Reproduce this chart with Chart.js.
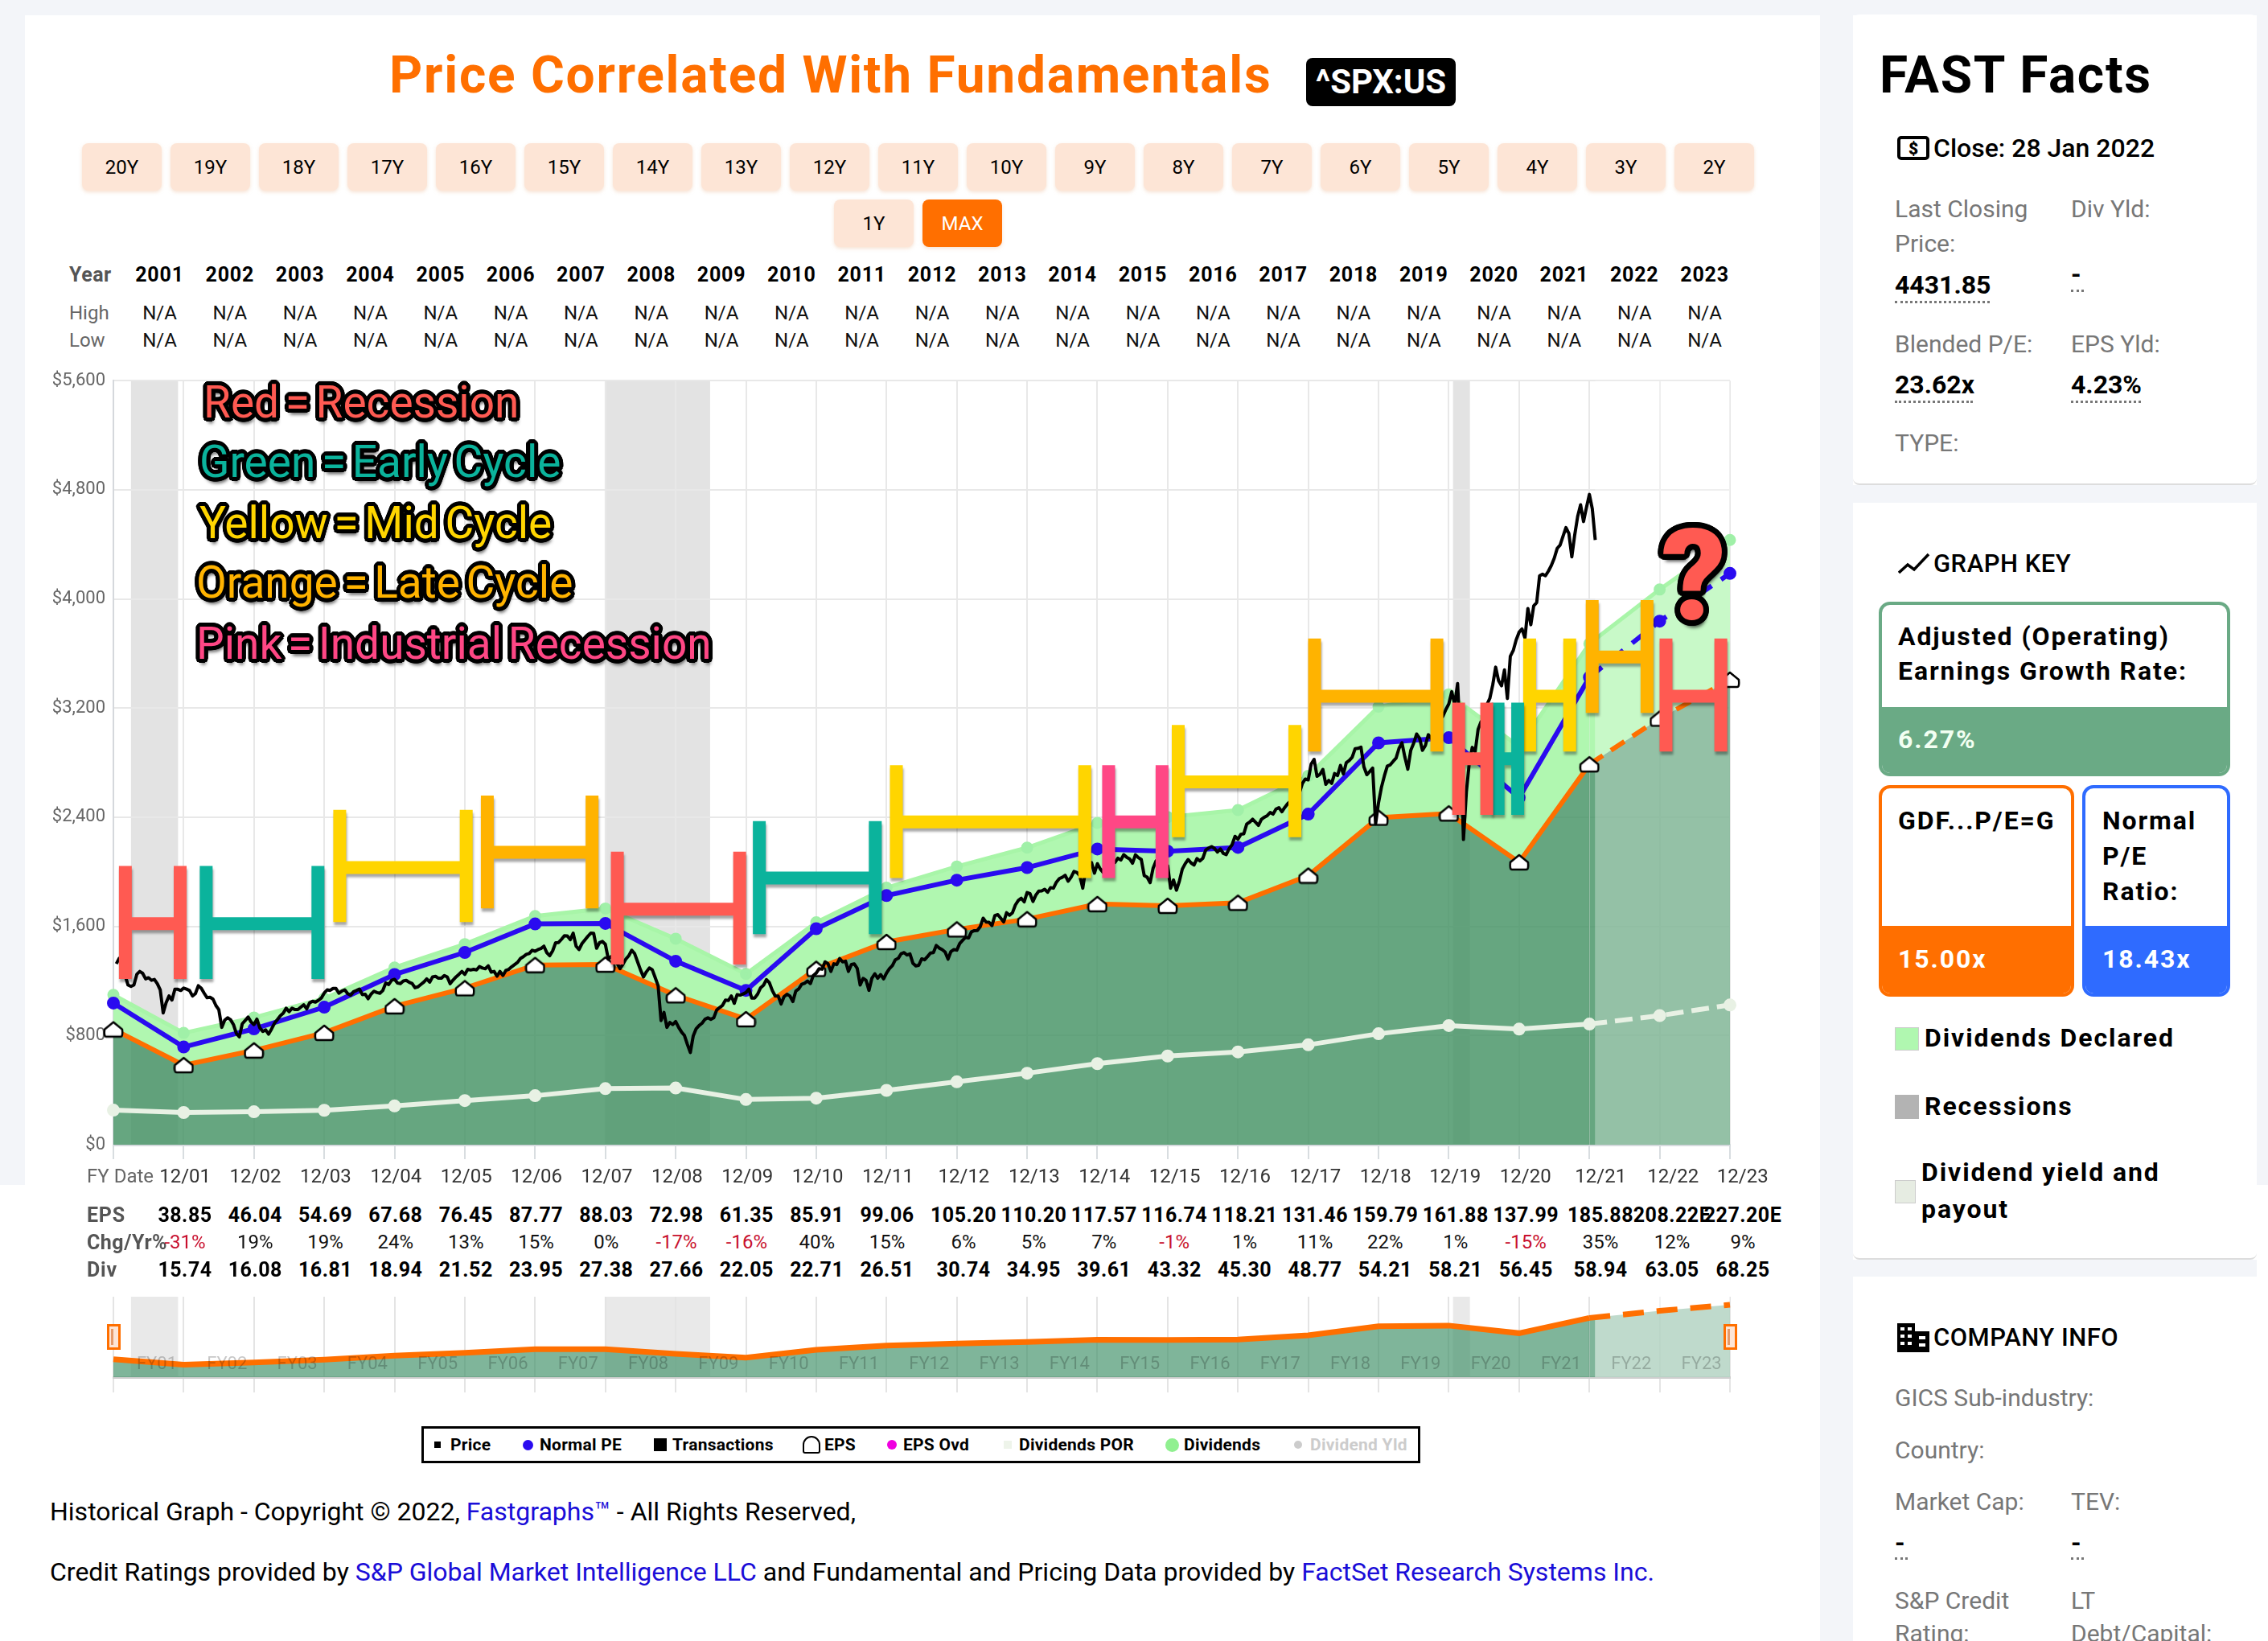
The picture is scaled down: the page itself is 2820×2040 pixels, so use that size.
<!DOCTYPE html>
<html>
<head>
<meta charset="utf-8">
<title>Price Correlated With Fundamentals</title>
<script src="https://cdn.jsdelivr.net/npm/chart.js@4"></script>
<style>
  html, body { margin: 0; padding: 0; background: #fff; }
  body { position: relative; width: 2820px; height: 2040px; overflow: hidden; font-family: Roboto, sans-serif; color: #000; }
  .abs { position: absolute; white-space: nowrap; line-height: 1; }
  .bg { position: absolute; background: #f3f5f9; }
  .card { position: absolute; background: #fff; border-radius: 8px; }
  .btn { position: absolute; background: #fde5d6; border-radius: 8px; font-size: 24px; display: flex; align-items: center; justify-content: center; box-shadow: 0 2px 4px rgba(240,200,170,.5); }
  .box { position: absolute; box-sizing: border-box; border-radius: 14px; border: 4px solid; background: #fff; overflow: hidden; }
  .box .fill { position: absolute; left: 0; right: 0; bottom: 0; }
  .note { font-weight: 700; word-spacing: -6px; }
  canvas { position: absolute; }
  svg { position: absolute; }
  a { color: #1a0dd8; text-decoration: none; }
</style>
</head>
<body>
<div class="bg" style="left:0;top:0;width:2820px;height:19px"></div>
<div class="bg" style="left:0;top:0;width:31px;height:1473px"></div>
<div class="bg" style="left:2263px;top:0;width:41px;height:2040px"></div>
<div class="bg" style="left:2806px;top:0;width:14px;height:1473px"></div>
<div class="bg" style="left:2304px;top:603px;width:502px;height:22px"></div>
<div class="bg" style="left:2304px;top:1566px;width:502px;height:21px"></div>
<div class="card" style="left:2304px;top:18px;width:502px;height:585px;border-bottom:2px solid #ddd;box-sizing:border-box"></div>
<div class="card" style="left:2304px;top:625px;width:502px;height:941px;border-bottom:2px solid #ddd;box-sizing:border-box"></div>

<canvas id="mainChart" width="2200" height="1040" style="left:40px;top:450px"></canvas>
<canvas id="navChart" width="2100" height="131" style="left:100px;top:1600px"></canvas>

<svg style="left:2359px;top:168px" width="40" height="32" viewBox="0 0 40 32"><rect x="2" y="3" width="36" height="26" rx="3" fill="none" stroke="#000" stroke-width="4"/><text x="20" y="24" font-size="21" font-weight="900" text-anchor="middle" font-family="Roboto">$</text></svg>
<svg style="left:2360px;top:684px" width="40" height="32" viewBox="0 0 40 32"><polyline points="1,28 12,18 20,24 38,5" fill="none" stroke="#000" stroke-width="3.5"/></svg>
<svg style="left:2359px;top:1645px" width="40" height="36" viewBox="0 0 40 36"><path d="M0 0H22V36H0Z M22 10H40V36H22Z" fill="#000"/><g fill="#fff"><rect x="4" y="5" width="5" height="4"/><rect x="13" y="5" width="5" height="4"/><rect x="4" y="14" width="5" height="4"/><rect x="13" y="14" width="5" height="4"/><rect x="4" y="23" width="5" height="4"/><rect x="13" y="23" width="5" height="4"/><rect x="27" y="16" width="8" height="4"/><rect x="27" y="25" width="8" height="4"/></g></svg>

<script>
// ---- data ----
const fyYears = [2000, 2001, 2002, 2003, 2004, 2005, 2006, 2007, 2008, 2009, 2010, 2011, 2012, 2013, 2014, 2015, 2016, 2017, 2018, 2019, 2020, 2021, 2022, 2023];
const fyLabels = ['12/01', '12/02', '12/03', '12/04', '12/05', '12/06', '12/07', '12/08', '12/09', '12/10', '12/11', '12/12', '12/13', '12/14', '12/15', '12/16', '12/17', '12/18', '12/19', '12/20', '12/21', '12/22', '12/23'];
// the date row is a table in the source, so it drifts a little right of the gridlines
const fyLabelAt = [2001.02, 2002.02, 2003.02, 2004.02, 2005.02, 2006.02, 2007.02, 2008.02, 2009.02, 2010.02, 2011.02, 2012.1, 2013.1, 2014.1, 2015.1, 2016.1, 2017.1, 2018.1, 2019.09, 2020.09, 2021.16, 2022.19, 2023.18];
const yTickLabels = ['$0', '$800', '$1,600', '$2,400', '$3,200', '$4,000', '$4,800', '$5,600'];

const gdfLine = [845, 583, 691, 820, 1015, 1147, 1317, 1320, 1095, 920, 1289, 1486, 1578, 1653, 1764, 1751, 1773, 1972, 2397, 2428, 2070, 2788, 3123, 3408];
const normalPe = [1038, 716, 849, 1008, 1247, 1409, 1618, 1622, 1345, 1131, 1583, 1826, 1939, 2031, 2167, 2151, 2179, 2423, 2945, 2983, 2543, 3426, 3837, 4187];
const dividendsPor = [253, 236, 241, 252, 284, 323, 359, 411, 415, 331, 341, 398, 461, 524, 594, 650, 680, 732, 813, 873, 847, 884, 946, 1024];
const dividendsTop = [1098, 819, 932, 1072, 1299, 1470, 1676, 1731, 1510, 1251, 1630, 1884, 2039, 2177, 2358, 2401, 2453, 2704, 3210, 3301, 2917, 3672, 4069, 4432];

// price: one mid month and one month end reading for each month, Jan 2001 to Jan 2022
const priceMid = [
  1326, 1320, 1170, 1170, 1270, 1215, 1205, 1180, 966, 1090, 1140, 1130,
  1140, 1090, 1165, 1110, 1080, 1020, 860, 930, 880, 790, 910, 900,
  920, 830, 810, 890, 945, 1000, 1000, 990, 1025, 1040, 1045, 1075,
  1135, 1145, 1110, 1135, 1095, 1130, 1100, 1070, 1125, 1110, 1185, 1205,
  1185, 1200, 1190, 1150, 1175, 1215, 1230, 1220, 1240, 1180, 1230, 1270,
  1285, 1285, 1305, 1290, 1265, 1235, 1240, 1285, 1320, 1365, 1395, 1425,
  1430, 1455, 1385, 1480, 1505, 1530, 1550, 1430, 1500, 1550, 1440, 1490,
  1360, 1350, 1290, 1360, 1425, 1340, 1230, 1295, 1225, 910, 860, 880,
  860, 800, 676, 850, 890, 930, 930, 1005, 1060, 1090, 1100, 1105,
  1140, 1075, 1150, 1210, 1130, 1090, 1085, 1090, 1125, 1175, 1200, 1240,
  1290, 1340, 1270, 1320, 1340, 1270, 1325, 1170, 1205, 1220, 1220, 1215,
  1290, 1355, 1400, 1390, 1330, 1315, 1355, 1405, 1460, 1430, 1360, 1430,
  1475, 1520, 1560, 1570, 1660, 1630, 1680, 1660, 1700, 1700, 1790, 1780,
  1840, 1830, 1860, 1850, 1880, 1950, 1975, 1960, 1995, 1880, 2040, 1990,
  2020, 2095, 2080, 2100, 2125, 2095, 2125, 2090, 1960, 2025, 2050, 2020,
  1880, 1865, 2020, 2090, 2050, 2080, 2160, 2185, 2145, 2135, 2170, 2260,
  2275, 2350, 2385, 2340, 2400, 2435, 2460, 2440, 2500, 2560, 2580, 2680,
  2790, 2700, 2750, 2670, 2720, 2780, 2800, 2840, 2905, 2770, 2735, 2351,
  2620, 2775, 2810, 2905, 2840, 2890, 3010, 2890, 3005, 2985, 3120, 3190,
  3320, 3380, 2237, 2800, 2880, 3100, 3225, 3370, 3400, 3480, 3580, 3700,
  3780, 3930, 3950, 4170, 4170, 4245, 4370, 4460, 4480, 4470, 4690, 4670,
  4660
];
const priceClose = [
  1366, 1240, 1160, 1249, 1256, 1224, 1211, 1134, 1041, 1060, 1139, 1148,
  1130, 1107, 1147, 1077, 1067, 990, 912, 916, 815, 886, 936, 880,
  856, 841, 848, 917, 964, 975, 990, 1008, 996, 1051, 1058, 1112,
  1131, 1145, 1126, 1107, 1121, 1141, 1102, 1104, 1115, 1130, 1174, 1212,
  1181, 1204, 1181, 1157, 1192, 1191, 1234, 1220, 1229, 1207, 1249, 1248,
  1280, 1281, 1295, 1311, 1270, 1270, 1277, 1304, 1336, 1378, 1401, 1418,
  1438, 1407, 1421, 1482, 1531, 1503, 1455, 1474, 1527, 1549, 1481, 1468,
  1379, 1331, 1323, 1386, 1400, 1280, 1267, 1283, 1165, 969, 896, 903,
  826, 735, 798, 873, 919, 919, 987, 1021, 1057, 1036, 1096, 1115,
  1074, 1104, 1169, 1187, 1089, 1031, 1102, 1049, 1141, 1183, 1181, 1258,
  1286, 1327, 1326, 1364, 1345, 1321, 1292, 1219, 1131, 1253, 1247, 1258,
  1312, 1366, 1408, 1398, 1310, 1362, 1379, 1407, 1441, 1412, 1416, 1426,
  1498, 1515, 1569, 1598, 1631, 1606, 1686, 1633, 1682, 1757, 1806, 1848,
  1783, 1859, 1872, 1884, 1924, 1960, 1931, 2003, 1972, 2018, 2068, 2059,
  1995, 2105, 2068, 2086, 2107, 2063, 2104, 1972, 1920, 2079, 2080, 2044,
  1940, 1932, 2060, 2065, 2097, 2099, 2174, 2171, 2168, 2126, 2199, 2239,
  2279, 2364, 2363, 2384, 2412, 2423, 2470, 2472, 2519, 2575, 2648, 2674,
  2824, 2714, 2641, 2648, 2705, 2718, 2816, 2902, 2914, 2712, 2760, 2507,
  2704, 2784, 2834, 2946, 2752, 2942, 2980, 2926, 2977, 3038, 3141, 3231,
  3226, 2954, 2585, 2912, 3044, 3100, 3271, 3500, 3363, 3270, 3622, 3756,
  3714, 3811, 3973, 4181, 4204, 4298, 4395, 4523, 4308, 4605, 4567, 4766,
  4432
];

// recession bands and the forecast boundary, in fiscal year units
const recessionStart = [2000.25, 2006.99, 2019.06];
const recessionEnd = [2000.92, 2008.49, 2019.30];
const forecastStart = 2021.08;

// cycle brackets painted over the chart
const cycleKind = ['red', 'teal', 'yellow', 'orange', 'red', 'teal', 'yellow', 'pink', 'yellow', 'orange', 'red', 'teal', 'yellow', 'orange', 'red'];
const cycleStart = [2000.17, 2001.32, 2003.22, 2005.32, 2007.17, 2009.19, 2011.14, 2014.16, 2015.15, 2017.09, 2019.14, 2019.70, 2020.15, 2021.04, 2022.09];
const cycleEnd = [2000.95, 2002.91, 2005.02, 2006.81, 2008.91, 2010.84, 2013.82, 2014.92, 2016.81, 2018.83, 2019.54, 2019.98, 2020.72, 2021.82, 2022.87];
const cycleLow = [1215, 1215, 1632, 1732, 1321, 1544, 1955, 1955, 2254, 2882, 2418, 2418, 2882, 3164, 2882];
const cycleHigh = [2043, 2043, 2454, 2559, 2148, 2371, 2782, 2782, 3076, 3710, 3240, 3240, 3710, 3992, 3710];
const cycleMid = [1620, 1620, 2031, 2143, 1726, 1955, 2366, 2366, 2659, 3287, 2829, 2829, 3287, 3575, 3287];

// table rows
const tableYears = ['2001', '2002', '2003', '2004', '2005', '2006', '2007', '2008', '2009', '2010', '2011', '2012', '2013', '2014', '2015', '2016', '2017', '2018', '2019', '2020', '2021', '2022', '2023'];
const epsRow = ['38.85', '46.04', '54.69', '67.68', '76.45', '87.77', '88.03', '72.98', '61.35', '85.91', '99.06', '105.20', '110.20', '117.57', '116.74', '118.21', '131.46', '159.79', '161.88', '137.99', '185.88', '208.22E', '227.20E'];
const chgRow = ['-31%', '19%', '19%', '24%', '13%', '15%', '0%', '-17%', '-16%', '40%', '15%', '6%', '5%', '7%', '-1%', '1%', '11%', '22%', '1%', '-15%', '35%', '12%', '9%'];
const divRow = ['15.74', '16.08', '16.81', '18.94', '21.52', '23.95', '27.38', '27.66', '22.05', '22.71', '26.51', '30.74', '34.95', '39.61', '43.32', '45.30', '48.77', '54.21', '58.21', '56.45', '58.94', '63.05', '68.25'];
const rangeButtons = ['20Y', '19Y', '18Y', '17Y', '16Y', '15Y', '14Y', '13Y', '12Y', '11Y', '10Y', '9Y', '8Y', '7Y', '6Y', '5Y', '4Y', '3Y', '2Y'];

// ---- html text around the charts ----
function put(text, x, cy, size, opts) {
  opts = opts || {};
  const el = document.createElement('div');
  el.className = 'abs ' + (opts.cls || '');
  el.textContent = text;
  el.style.top = (cy - size / 2) + 'px';
  el.style.fontSize = size + 'px';
  el.style.fontWeight = opts.weight || 400;
  el.style.color = opts.color || '#000';
  if (opts.ls) el.style.letterSpacing = opts.ls + 'px';
  if (opts.center) { el.style.left = x + 'px'; el.style.transform = 'translateX(-50%)'; }
  else el.style.left = x + 'px';
  if (opts.z) el.style.zIndex = opts.z;
  document.body.appendChild(el);
  return el;
}
function button(text, x, y, active) {
  const b = document.createElement('div');
  b.className = 'btn';
  b.textContent = text;
  b.style.cssText += `left:${x}px;top:${y}px;width:99px;height:59px;`;
  if (active) { b.style.background = '#ff6f00'; b.style.color = '#fff'; }
  document.body.appendChild(b);
}
function rect(x, y, w, h, css) {
  const r = document.createElement('div');
  r.style.cssText = `position:absolute;left:${x}px;top:${y}px;width:${w}px;height:${h}px;` + (css || '');
  document.body.appendChild(r);
  return r;
}
// black outline plus drop shadow, built from text shadows so the fill stays full weight
function outline(r) {
  const parts = [];
  for (let a = 0; a < 24; a++) {
    const t = a / 24 * Math.PI * 2;
    parts.push(`${(Math.cos(t) * r).toFixed(1)}px ${(Math.sin(t) * r).toFixed(1)}px 0 #000`);
  }
  parts.push(`${r * 0.4}px ${r + 2}px 4px rgba(0,0,0,.7)`);
  return parts.join(',');
}

put('Price Correlated With Fundamentals', 484, 94, 64, { weight: 700, color: '#ff6f00', ls: 1.75 });
rect(1624, 72, 186, 60, 'background:#000;border-radius:8px');
put('^SPX:US', 1717, 102, 42, { weight: 700, color: '#fff', center: true });

rangeButtons.forEach((t, i) => button(t, 102 + i * 110, 178));
button('1Y', 1037, 248);
button('MAX', 1147, 248, true);

put('Year', 86, 341, 25, { weight: 700, color: '#555', ls: 0.5 });
put('High', 86, 389, 24, { color: '#666' });
put('Low', 86, 423, 24, { color: '#666' });
tableYears.forEach((t, i) => {
  const x = 198.5 + i * 87.32;
  put(t, x, 341, 25, { weight: 700, center: true, ls: 0.8 });
  put('N/A', x, 389, 24, { center: true, color: '#111' });
  put('N/A', x, 423, 24, { center: true, color: '#111' });
});

put('FY Date', 108, 1462, 24, { color: '#666' });
put('EPS', 108, 1510, 25, { weight: 700, color: '#555', ls: 0.8 });
put('Chg/Yr%', 108, 1544, 25, { weight: 700, color: '#555', ls: 0.5 });
put('Div', 108, 1578, 25, { weight: 700, color: '#555', ls: 0.8 });
const colX = i => i < 11 ? 230 + i * 87.3 : i < 20 ? 1198 + (i - 11) * 87.4 : [1990, 2079, 2167][i - 20];
epsRow.forEach((t, i) => put(t, colX(i), 1510, 25, { weight: 700, center: true, ls: 0.5 }));
chgRow.forEach((t, i) => put(t, colX(i), 1544, 24, { center: true, color: t[0] === '-' ? '#c8102e' : '#111' }));
divRow.forEach((t, i) => put(t, colX(i), 1578, 25, { weight: 700, center: true, ls: 0.5 }));

// mini navigator labels and handles
tableYears.forEach((t, i) => put('FY' + t.slice(2), 195 + i * 87.3, 1695, 22, { center: true, color: 'rgba(0,0,0,.22)', z: 2 }));
[141, 2151].forEach(x => {
  rect(x - 8, 1646, 11, 26, 'background:#fde5d6;border:3px solid #ff6f00;z-index:3');
  rect(x - 3, 1652, 3, 20, 'background:#e59a6a;z-index:4');
});

// chart legend box
rect(524, 1773, 1236, 40, 'border:3px solid #000');
const legendItems = [
  ['Price', 560, 'sq', 540, 8, '#000'], ['Normal PE', 671, 'dot', 650, 13, '#2a0bf0'],
  ['Transactions', 836, 'sq', 813, 16, '#000'], ['EPS', 1025, 'eps', 998, 22, '#fff'],
  ['EPS Ovd', 1123, 'dot', 1103, 12, '#f000e0'], ['Dividends POR', 1267, 'sq', 1248, 10, '#eef4ea'],
  ['Dividends', 1472, 'dot', 1449, 17, '#90f090'], ['Dividend Yld', 1629, 'dot', 1609, 10, '#ccc']
];
legendItems.forEach(([label, tx, kind, mx, size, color]) => {
  put(label, tx, 1796, 21, { weight: 700, ls: 0.25, color: label === 'Dividend Yld' ? '#ccc' : '#000' });
  if (kind === 'dot') rect(mx, 1796 - size / 2, size, size, `background:${color};border-radius:50%`);
  if (kind === 'sq') rect(mx, 1796 - size / 2, size, size, `background:${color}`);
  if (kind === 'eps') rect(mx, 1785, size, size, `background:#fff;border:2px solid #000;box-sizing:border-box;border-radius:50% 50% 3px 3px`);
});

// footer with links
const foot1 = put('', 62, 1879, 32);
foot1.innerHTML = 'Historical Graph - Copyright © 2022, <a>Fastgraphs™</a> - All Rights Reserved,';
const foot2 = put('', 62, 1954, 32);
foot2.innerHTML = 'Credit Ratings provided by <a>S&amp;P Global Market Intelligence LLC</a> and Fundamental and Pricing Data provided by <a>FactSet Research Systems Inc.</a>';

// painted notes over the plot
const noteLines = [
  ['Red = Recession', 253, 500, '#ff5a52'], ['Green = Early Cycle', 248, 574, '#0bb39c'],
  ['Yellow = Mid Cycle', 248, 650, '#ffd500'], ['Orange = Late Cycle', 244, 724, '#ffb300'],
  ['Pink = Industrial Recession', 244, 800, '#ff4785']
];
noteLines.forEach(([t, x, y, c]) => {
  put(t, x, y, 55, { cls: 'note', color: c, z: 5 }).style.textShadow = outline(5);
});
put('?', 2106, 716, 158, { cls: 'note', weight: 900, color: '#ff5a52', center: true, z: 5 }).style.textShadow = outline(7);

// right column
const grey = '#777';
const under = 'border-bottom:3px dotted #777;';
put('FAST Facts', 2337, 94, 64, { weight: 700, ls: 1.7 });
put('Close: 28 Jan 2022', 2404, 184, 32, { weight: 500 });
put('Last Closing', 2356, 260, 30, { color: grey });
put('Price:', 2356, 303, 30, { color: grey });
put('Div Yld:', 2575, 260, 30, { color: grey });
put('4431.85', 2356, 354, 32, { weight: 700 });
rect(2356, 374, 118, 0, under);
put('-', 2575, 341, 32, { weight: 700 });
rect(2575, 360, 16, 0, under);
put('Blended P/E:', 2356, 428, 30, { color: grey });
put('EPS Yld:', 2575, 428, 30, { color: grey });
put('23.62x', 2356, 478, 32, { weight: 700 });
rect(2356, 498, 97, 0, under);
put('4.23%', 2575, 478, 32, { weight: 700 });
rect(2575, 498, 87, 0, under);
put('TYPE:', 2356, 551, 30, { color: grey });

put('GRAPH KEY', 2404, 700, 31, { weight: 500, ls: 0.5 });
function keyBox(x, y, w, h, fillH, color) {
  const b = document.createElement('div');
  b.className = 'box';
  b.style.cssText = `left:${x}px;top:${y}px;width:${w}px;height:${h}px;border-color:${color}`;
  const f = document.createElement('div');
  f.className = 'fill';
  f.style.height = fillH + 'px';
  f.style.background = color;
  b.appendChild(f);
  document.body.appendChild(b);
}
keyBox(2336, 748, 437, 217, 82, '#6aaa85');
keyBox(2336, 976, 243, 263, 84, '#ff6f00');
keyBox(2589, 976, 184, 263, 84, '#2f6bff');
const keyText = { weight: 700, ls: 1.9 };
put('Adjusted (Operating)', 2360, 791, 32, keyText);
put('Earnings Growth Rate:', 2360, 834, 32, keyText);
put('6.27%', 2360, 919, 32, { weight: 700, color: '#f2fff2', ls: 1.9 });
put('GDF...P/E=G', 2360, 1020, 32, keyText);
put('15.00x', 2360, 1192, 32, { weight: 700, color: '#fff', ls: 1.9 });
put('Normal', 2614, 1020, 32, keyText);
put('P/E', 2614, 1064, 32, keyText);
put('Ratio:', 2614, 1108, 32, keyText);
put('18.43x', 2614, 1192, 32, { weight: 700, color: '#fff', ls: 1.9 });

rect(2356, 1277, 28, 27, 'background:#b0f7b0;border:1px solid #ccc');
put('Dividends Declared', 2393, 1290, 32, keyText);
rect(2356, 1361, 30, 30, 'background:#b3b3b3');
put('Recessions', 2393, 1375, 32, keyText);
rect(2356, 1467, 24, 27, 'background:#e6ece2;border:1px solid #ccc');
put('Dividend yield and', 2389, 1457, 32, keyText);
put('payout', 2389, 1503, 32, keyText);

put('COMPANY INFO', 2404, 1662, 31, { weight: 500, ls: 0.5 });
put('GICS Sub-industry:', 2356, 1738, 30, { color: grey });
put('Country:', 2356, 1803, 30, { color: grey });
put('Market Cap:', 2356, 1867, 30, { color: grey });
put('TEV:', 2575, 1867, 30, { color: grey });
put('-', 2356, 1918, 32, { weight: 700 });
rect(2356, 1936, 16, 0, under);
put('-', 2575, 1918, 32, { weight: 700 });
rect(2575, 1936, 16, 0, under);
put('S&P Credit', 2356, 1990, 30, { color: grey });
put('LT', 2575, 1990, 30, { color: grey });
put('Rating:', 2356, 2031, 30, { color: grey });
put('Debt/Capital:', 2575, 2031, 30, { color: grey });

// ---- charts ----
Chart.defaults.font.family = 'Roboto';

const xy = ys => ys.map((y, i) => ({ x: fyYears[i], y: y }));
const priceData = [];
priceMid.forEach((m, i) => {
  priceData.push({ x: 2000 + (i + 0.5) / 12, y: m });
  priceData.push({ x: 2000 + (i + 1) / 12, y: priceClose[i] });
});
const forecastDash = dash => ({ borderDash: c => c.p0.parsed.x >= 2021 ? dash : undefined });

// white house shaped EPS marker
const epsMark = document.createElement('canvas');
epsMark.width = 26; epsMark.height = 22;
(function () {
  const c = epsMark.getContext('2d');
  c.beginPath();
  c.moveTo(13, 2); c.lineTo(24, 11); c.quadraticCurveTo(25, 20, 22, 20);
  c.lineTo(4, 20); c.quadraticCurveTo(1, 20, 2, 11); c.closePath();
  c.fillStyle = '#fff'; c.fill();
  c.lineWidth = 2.5; c.strokeStyle = '#000'; c.lineJoin = 'round'; c.stroke();
})();

const cycleColors = { red: '#ff5a52', teal: '#0bb39c', yellow: '#ffd500', orange: '#ffb300', pink: '#ff4785' };
const cycleSets = cycleKind.map((kind, i) => ({
  type: 'line',
  order: 0,
  data: [
    { x: cycleStart[i], y: cycleLow[i] }, { x: cycleStart[i], y: cycleHigh[i] }, { x: cycleStart[i], y: null },
    { x: cycleStart[i], y: cycleMid[i] }, { x: cycleEnd[i], y: cycleMid[i] }, { x: cycleEnd[i], y: null },
    { x: cycleEnd[i], y: cycleLow[i] }, { x: cycleEnd[i], y: cycleHigh[i] }
  ],
  borderColor: cycleColors[kind],
  borderWidth: 16,
  borderCapStyle: 'butt',
  pointRadius: 0,
  spanGaps: false,
  clip: false
}));

// recession bands sit under the translucent fills, the forecast veil over them
const bandsPlugin = {
  id: 'bands',
  beforeDraw(chart, args, opts) {
    const { ctx, chartArea: a, scales: { x } } = chart;
    ctx.save();
    ctx.fillStyle = opts.bandColor;
    recessionStart.forEach((s, i) => {
      const l = x.getPixelForValue(s);
      ctx.fillRect(l, a.top, x.getPixelForValue(recessionEnd[i]) - l, a.bottom - a.top);
    });
    ctx.restore();
  },
  beforeDatasetsDraw(chart, args, opts) {
    const { ctx, chartArea: a, scales: { x } } = chart;
    const f = x.getPixelForValue(forecastStart);
    ctx.save();
    ctx.fillStyle = `rgba(255,255,255,${opts.futureAlpha})`;
    ctx.fillRect(f, a.top, a.right - f, a.bottom - a.top);
    ctx.restore();
  },
  beforeDatasetDraw(chart, args) {
    if (chart.data.datasets[args.index].order === 0) {
      const c = chart.ctx;
      c.save();
      c.shadowColor = 'rgba(0,0,0,.35)';
      c.shadowOffsetX = 1;
      c.shadowOffsetY = 4;
      c.shadowBlur = 3;
    }
  },
  afterDatasetDraw(chart, args) {
    if (chart.data.datasets[args.index].order === 0) chart.ctx.restore();
  }
};

const gridColor = '#e8e8e8';

new Chart(document.getElementById('mainChart'), {
  type: 'line',
  plugins: [bandsPlugin],
  data: {
    datasets: [
      { label: 'Price', order: 1, data: priceData, borderColor: '#000', borderWidth: 4, pointRadius: 0, borderJoinStyle: 'round' },
      { label: 'EPS', order: 2, data: xy(gdfLine), showLine: false, pointStyle: epsMark, pointRadius: 12, clip: false },
      { label: 'Normal PE', order: 3, data: xy(normalPe), borderColor: '#2a0bf0', backgroundColor: '#2a0bf0', borderWidth: 6, pointRadius: 5, clip: false, segment: forecastDash([20, 14]) },
      { label: 'Dividends POR', order: 4, data: xy(dividendsPor), borderColor: '#e8f1e4', backgroundColor: '#e8f1e4', borderWidth: 6, pointRadius: 5, clip: false, segment: forecastDash([22, 10]) },
      { label: 'GDF', order: 5, data: xy(gdfLine), borderColor: '#ff6f00', borderWidth: 6, pointRadius: 0, fill: 'origin', backgroundColor: 'rgba(64,144,96,.8)', clip: false, segment: forecastDash([20, 12]) },
      { label: 'Dividends', order: 6, data: xy(dividendsTop), borderColor: '#a8f5a8', pointBackgroundColor: '#a0f0a8', pointBorderColor: '#a0f0a8', borderWidth: 5, pointRadius: 5, fill: 4, backgroundColor: '#b0f7b0', clip: false },
      ...cycleSets
    ]
  },
  options: {
    responsive: false,
    animation: false,
    devicePixelRatio: 1,
    layout: { padding: { top: 19, right: 89, left: 0, bottom: 0 } },
    elements: { line: { tension: 0 } },
    plugins: {
      legend: { display: false },
      tooltip: { enabled: false },
      filler: { drawTime: 'beforeDatasetsDraw' },
      bands: { bandColor: '#e3e3e3', futureAlpha: 0.3 }
    },
    scales: {
      x: {
        type: 'linear',
        min: 2000,
        max: 2023,
        afterFit(s) { s.height = 19; },
        grid: { color: gridColor, lineWidth: 2, tickLength: 18, tickColor: '#d8dde0' },
        border: { color: '#d5dadd', width: 3 },
        ticks: { stepSize: 1, display: false }
      },
      xDates: {
        type: 'linear',
        position: 'bottom',
        weight: 1,
        min: 2000,
        max: 2023,
        afterFit(s) { s.height = 48; },
        afterBuildTicks(s) { s.ticks = fyLabelAt.map(v => ({ value: v })); },
        grid: { display: false, drawTicks: false },
        border: { display: false },
        ticks: {
          maxRotation: 0,
          autoSkip: false,
          padding: 8,
          color: '#333',
          font: { size: 24 },
          callback: (v, i) => fyLabels[i]
        }
      },
      y: {
        min: 0,
        max: 5600,
        afterFit(s) { s.width = 101; },
        grid: { color: gridColor, lineWidth: 2, drawTicks: false },
        border: { color: '#d5d8dc', width: 2 },
        ticks: { stepSize: 800, padding: 10, color: '#666', font: { size: 22 }, callback: (v, i) => yTickLabels[i] }
      }
    }
  }
});

new Chart(document.getElementById('navChart'), {
  type: 'line',
  plugins: [bandsPlugin],
  data: {
    datasets: [
      { data: xy(gdfLine), borderColor: '#ff6f00', borderWidth: 7, pointRadius: 0, fill: 'origin', backgroundColor: 'rgba(61,142,101,.66)', clip: false, segment: forecastDash([26, 16]) }
    ]
  },
  options: {
    responsive: false,
    animation: false,
    devicePixelRatio: 1,
    layout: { padding: { top: 12, right: 49, left: 41, bottom: 0 } },
    elements: { line: { tension: 0 } },
    plugins: {
      legend: { display: false },
      tooltip: { enabled: false },
      filler: { drawTime: 'beforeDatasetsDraw' },
      bands: { bandColor: '#e9e9e9', futureAlpha: 0.5 }
    },
    scales: {
      x: {
        type: 'linear',
        min: 2000,
        max: 2023,
        afterFit(s) { s.height = 19; },
        grid: { color: '#e4e4e4', lineWidth: 2, tickLength: 19 },
        border: { color: '#cfcfcf', width: 3 },
        ticks: { stepSize: 1, display: false }
      },
      y: { display: false, min: 0, max: 3787 }
    }
  }
});
</script>
</body>
</html>
